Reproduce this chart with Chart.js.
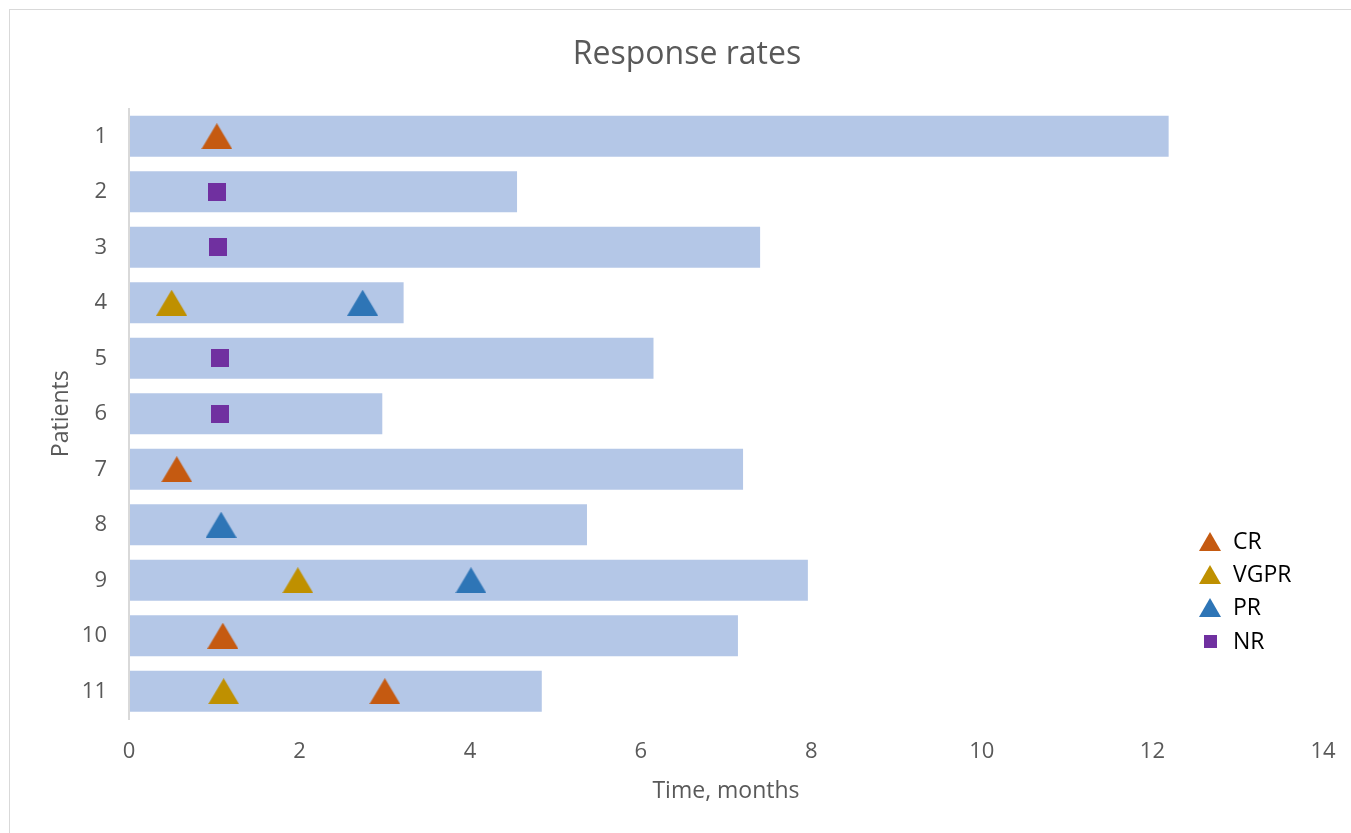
<!DOCTYPE html>
<html>
<head>
<meta charset="utf-8">
<title>Response rates</title>
<script src="https://cdn.jsdelivr.net/npm/chart.js@4/dist/chart.umd.min.js"></script>
<style>
  html, body { margin: 0; padding: 0; background: #ffffff; overflow: hidden; }
  #wrap { position: relative; width: 1351px; height: 833px; }
  #frame { position: absolute; left: 9px; top: 9px; width: 1400px; height: 900px;
           border: 1px solid #d9d9d9; box-sizing: border-box; pointer-events: none; }
  canvas { position: absolute; left: 0; top: 0; }
</style>
</head>
<body>
<div id="wrap">
  <div id="frame"></div>
  <canvas id="chart" width="1351" height="833"></canvas>
</div>
<script>
// Patients and time on treatment (months)
const patients = ['1', '2', '3', '4', '5', '6', '7', '8', '9', '10', '11'];
const durations = [12.19, 4.55, 7.40, 3.22, 6.15, 2.97, 7.20, 5.37, 7.96, 7.14, 4.84];

// Response assessments: patient and time of each event
const crPatients = ['1', '7', '10', '11'];
const crTimes = [1.03, 0.56, 1.10, 3.00];
const vgprPatients = ['4', '9', '11'];
const vgprTimes = [0.50, 1.98, 1.11];
const prPatients = ['4', '8', '9'];
const prTimes = [2.74, 1.08, 4.01];
const nrPatients = ['2', '3', '5', '6'];
const nrTimes = [1.03, 1.04, 1.07, 1.07];

const xTicks = [0, 2, 4, 6, 8, 10, 12, 14];

const FONT = "'Open Sans', 'Noto Sans', sans-serif";
const GREY = '#595959';

function triangleIcon(color, w, h) {
  const c = document.createElement('canvas');
  c.width = w; c.height = h;
  const g = c.getContext('2d');
  g.fillStyle = color;
  g.beginPath();
  g.moveTo(w / 2, 0);
  g.lineTo(w, h);
  g.lineTo(0, h);
  g.closePath();
  g.fill();
  return c;
}
function squareIcon(color, s) {
  const c = document.createElement('canvas');
  c.width = s; c.height = s;
  const g = c.getContext('2d');
  g.fillStyle = color;
  g.fillRect(0, 0, s, s);
  return c;
}

const toPoints = (ys, xs) => ys.map((p, i) => ({ x: xs[i], y: p }));

const markerSets = [
  { label: 'CR',   color: '#c55a11', shape: 'tri', ys: crPatients,   xs: crTimes },
  { label: 'VGPR', color: '#bf9000', shape: 'tri', ys: vgprPatients, xs: vgprTimes },
  { label: 'PR',   color: '#2e75b6', shape: 'tri', ys: prPatients,   xs: prTimes },
  { label: 'NR',   color: '#7030a0', shape: 'sq',  ys: nrPatients,   xs: nrTimes }
];

const markerDatasets = markerSets.map(m => ({
  type: 'scatter',
  label: m.label,
  data: toPoints(m.ys, m.xs),
  pointStyle: m.shape === 'tri' ? triangleIcon(m.color, 31, 26) : squareIcon(m.color, 18),
  legendIcon: m.shape === 'tri' ? triangleIcon(m.color, 22, 19) : squareIcon(m.color, 13),
  pointRadius: 15,
  backgroundColor: m.color,
  borderColor: m.color,
  order: 1
}));

// Legend drawn inside the plot, to the right of the bars
const sideLegend = {
  id: 'sideLegend',
  afterDraw(chart, args, opts) {
    const ctx = chart.ctx;
    ctx.save();
    ctx.font = opts.fontSize + 'px ' + FONT;
    ctx.fillStyle = opts.color;
    ctx.textBaseline = 'middle';
    ctx.textAlign = 'left';
    let y = opts.top;
    chart.data.datasets.forEach(ds => {
      if (!ds.legendIcon) return;
      const icon = ds.legendIcon;
      ctx.drawImage(icon, Math.round(opts.iconX - icon.width / 2), Math.round(y - icon.height / 2));
      ctx.fillText(ds.label, opts.textX, y + 1);
      y += opts.rowGap;
    });
    ctx.restore();
  }
};

new Chart(document.getElementById('chart'), {
  type: 'bar',
  data: {
    labels: patients,
    datasets: [
      {
        label: 'Duration',
        data: durations,
        backgroundColor: '#b4c7e7',
        borderWidth: 0,
        barPercentage: 0.74,
        categoryPercentage: 1.0,
        order: 10
      },
      ...markerDatasets
    ]
  },
  options: {
    indexAxis: 'y',
    responsive: false,
    animation: false,
    layout: { padding: { left: 51, right: 28, top: 0, bottom: 0 } },
    plugins: {
      legend: { display: false },
      tooltip: { enabled: false },
      title: {
        display: true,
        text: 'Response rates',
        color: GREY,
        font: { family: FONT, size: 32, weight: 'normal', lineHeight: 1.2 },
        padding: { top: 35.5, bottom: 34.6 }
      },
      sideLegend: { iconX: 1210, textX: 1233, top: 541.5, rowGap: 33.2, fontSize: 23, color: '#000000' }
    },
    scales: {
      x: {
        type: 'linear',
        min: 0,
        max: 14,
        afterBuildTicks: s => { s.ticks = xTicks.map(v => ({ value: v })); },
        afterFit: s => { s.height = 114; s.paddingLeft = 0; s.paddingRight = 0; },
        grid: { display: false, drawTicks: false },
        border: { display: false },
        ticks: { color: GREY, padding: 20, font: { family: FONT, size: 22 } },
        title: {
          display: true,
          text: 'Time, months',
          color: GREY,
          font: { family: FONT, size: 23, lineHeight: 1 },
          padding: { top: 0, bottom: 30 }
        }
      },
      y: {
        type: 'category',
        labels: patients,
        offset: true,
        afterFit: s => { s.width = 78; },
        grid: { display: false, drawTicks: false },
        border: { display: true, color: '#d9d9d9', width: 2, z: 1 },
        ticks: { color: GREY, padding: 22, font: { family: FONT, size: 22 } },
        title: {
          display: true,
          text: 'Patients',
          color: GREY,
          font: { family: FONT, size: 23, lineHeight: 1 },
          padding: { top: -1.5, bottom: 0 }
        }
      }
    }
  },
  plugins: [sideLegend]
});
</script>
</body>
</html>
